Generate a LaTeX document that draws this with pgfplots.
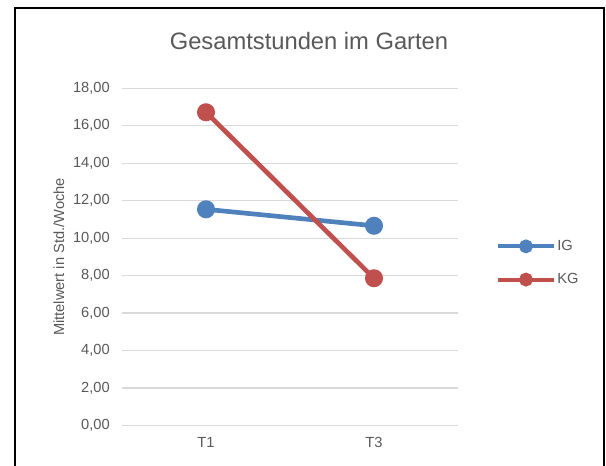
\documentclass[border=0pt]{standalone}
\usepackage{fontspec}
\setmainfont{Liberation Sans}
\usepackage{pgfplots}
\pgfplotsset{compat=1.18}

\definecolor{igblue}{HTML}{4F81BD}
\definecolor{kgred}{HTML}{C0504D}
\definecolor{gridgray}{HTML}{D9D9D9}
\definecolor{txtgray}{HTML}{595959}

\begin{document}
\begin{tikzpicture}
  % page area and outer chart frame
  \clip (0pt,0pt) rectangle (454.5pt,349.5pt);
  \draw[line width=1.9pt, black] (11.25pt,-18pt) rectangle (453pt,343.5pt);

  % chart title
  \node[anchor=base, text=txtgray, font=\fontsize{17.8}{20}\selectfont, inner sep=0pt]
    at (231.75pt,312pt) {Gesamtstunden im Garten};

  \begin{axis}[
    at={(91.5pt,30.375pt)}, anchor=south west,
    scale only axis,
    width=252pt, height=252.9pt,
    xmin=-0.5, xmax=1.5,
    ymin=0, ymax=18,
    xtick={0,1}, xticklabels={T1,T3},
    ytick={0,2,...,18},
    major tick length=0pt,
    axis line style={draw=none},
    ymajorgrids,
    grid style={gridgray, line width=0.95pt},
    tick label style={text=txtgray, font=\fontsize{11}{13}\selectfont, inner sep=0pt},
    yticklabel style={xshift=-9pt},
    xticklabel style={yshift=-8.6pt},
    /pgf/number format/.cd, fixed, fixed zerofill, precision=2, use comma, assume math mode=true,
    /pgfplots/.cd,
    ylabel={Mittelwert in Std./Woche},
    every axis y label/.style={at={(axis description cs:-0.1875,0.5)}, rotate=90, anchor=center,
      text=txtgray, font=\fontsize{11}{13}\selectfont, inner sep=0pt},
    clip=false,
    legend style={draw=none, fill=none, at={(axis description cs:1.113,0.482)}, anchor=west,
      inner sep=0pt, outer sep=0pt, nodes={inner sep=0pt, anchor=west, text=txtgray,
      font=\fontsize{11}{13}\selectfont}, column sep=1pt, row sep=14.6pt},
    legend cell align=left,
    legend image code/.code={
      \draw[#1, mark=none, line width=3pt] (0pt,0pt) -- (42pt,0pt);
      \fill[#1] (21pt,0pt) circle (3.4pt);
    },
  ]
    \addplot[igblue, line width=3.5pt, mark=*, mark size=5pt, mark options={solid, fill=igblue, draw=none}]
      coordinates {(0,11.54) (1,10.66)};
    \addlegendentry{IG}
    \addplot[kgred, line width=3.5pt, mark=*, mark size=5pt, mark options={solid, fill=kgred, draw=none}]
      coordinates {(0,16.72) (1,7.86)};
    \addlegendentry{KG}
  \end{axis}
\end{tikzpicture}
\end{document}
